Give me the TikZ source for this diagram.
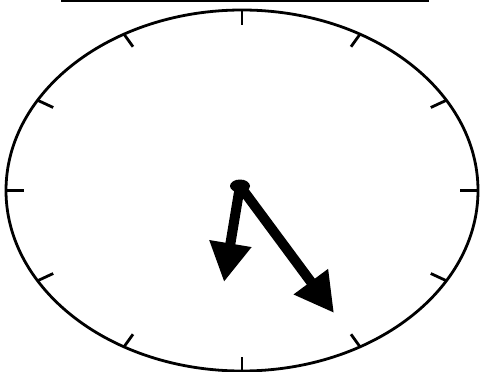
\documentclass[tikz,border=0pt]{standalone}
\usetikzlibrary{arrows.meta,calc}
\begin{document}
\begin{tikzpicture}[x=1pt,y=-1pt,
  rim/.style={line width=2.8pt},
  tick/.style={line width=2.8pt},
  hand/.style={line width=10pt,-{Triangle[length=39pt,width=40pt]}}]
\useasboundingbox (0,0) rectangle (482,372);
\fill[white] (0,0) rectangle (482,372);
\draw[line width=2.6pt] (61,1) coordinate (l1) -- (429,1) coordinate (l2);
\coordinate (o) at (242,190.5);
\draw[rim] (o) ellipse [x radius=236, y radius=180.5];
\foreach \a in {0,30,...,330}{
  \draw[tick] ($(o)+({236*sin(\a)},{-180.5*cos(\a)})$) coordinate (t\a)
    -- ($(o)+({218*sin(\a)},{-166*cos(\a)})$);
}
\coordinate (c) at (240,186);
\coordinate (hh) at (224,282);
\coordinate (mh) at (334,313);
\draw[hand] (c) -- (hh);
\draw[hand] (c) -- (mh);
\fill (c) ellipse [x radius=10, y radius=6.5];
\end{tikzpicture}
\end{document}
